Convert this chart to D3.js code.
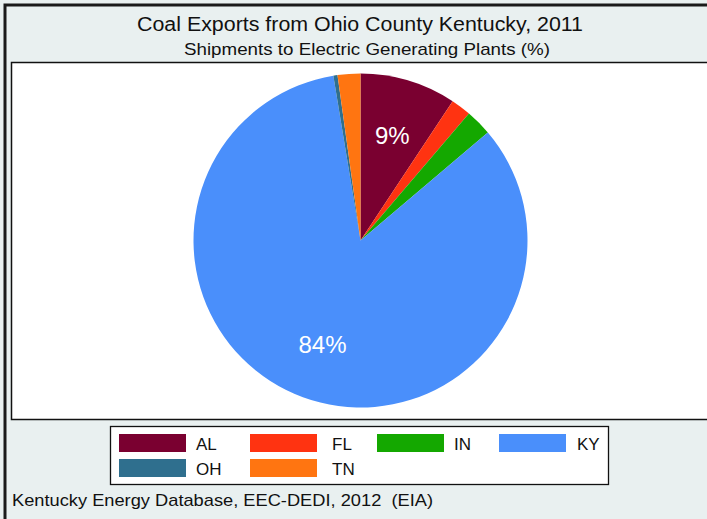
<!DOCTYPE html>
<html><head><meta charset="utf-8">
<script src="https://cdn.jsdelivr.net/npm/d3@7"></script>
<style>html,body{margin:0;padding:0;background:#e9f0f0;}svg{display:block;font-family:"Liberation Sans",Arial,sans-serif;}</style>
</head><body>
<svg id="c" width="707" height="519"></svg>
<script>
const categories = ["AL","FL","IN","KY","OH","TN"];
const values = [9.3, 1.95, 2.55, 83.6, 0.4, 2.2];
const colors = ["#7a0030","#ff3311","#14a800","#4a8ffb","#2f6f8e","#ff7511"];
const labeled = ["AL","KY"];

const svg = d3.select("#c");
svg.append("rect").attr("x",0).attr("y",0).attr("width",707).attr("height",519).attr("fill","#e9f0f0");
svg.append("path").attr("d","M5,519 V5 H707").attr("fill","none").attr("stroke","#1a1a1a").attr("stroke-width",3);

svg.append("text").attr("x",360).attr("y",31).attr("text-anchor","middle").attr("font-size",20)
  .attr("textLength",446).attr("lengthAdjust","spacingAndGlyphs").attr("fill","#111").text("Coal Exports from Ohio County Kentucky, 2011");
svg.append("text").attr("x",367).attr("y",55).attr("text-anchor","middle").attr("font-size",17)
  .attr("textLength",366).attr("lengthAdjust","spacingAndGlyphs").attr("fill","#111").text("Shipments to Electric Generating Plants (%)");

svg.append("rect").attr("x",11.5).attr("y",62.5).attr("width",720).attr("height",357).attr("fill","#fff").attr("stroke","#111").attr("stroke-width",1.5);

const cx = 360.5, cy = 240.5, R = 167;
const pie = d3.pie().sort(null).value(d=>d.v);
const data = categories.map((c,i)=>({c, v: values[i], col: colors[i]}));
const arcs = pie(data);
const arc = d3.arc().innerRadius(0).outerRadius(R);
const g = svg.append("g").attr("transform",`translate(${cx},${cy})`);
g.selectAll("path").data(arcs).join("path").attr("d",arc).attr("fill",d=>d.data.col);
const labArc = d3.arc().innerRadius(R*0.66).outerRadius(R*0.66);
g.selectAll("text").data(arcs.filter(d=>labeled.includes(d.data.c))).join("text")
  .attr("transform",d=>`translate(${labArc.centroid(d)})`)
  .attr("text-anchor","middle").attr("dy","0.36em").attr("font-size",24).attr("fill","#fff")
  .text(d=>Math.round(d.data.v)+"%");

const lg = svg.append("g");
lg.append("rect").attr("x",110.5).attr("y",426.5).attr("width",498).attr("height",58).attr("fill","#fff").attr("stroke","#111").attr("stroke-width",1.3);
const colX = [119, 250, 377, 499];
const labX = [196, 332, 454, 577];
const rowY = [434, 459];
data.forEach((d,i)=>{
  const col = i%4, row = Math.floor(i/4);
  lg.append("rect").attr("x",colX[col]).attr("y",rowY[row]).attr("width",67).attr("height",18).attr("fill",d.col);
  lg.append("text").attr("x",labX[col]).attr("y",rowY[row]+16).attr("font-size",17).attr("fill","#111").text(d.c);
});

svg.append("text").attr("x",12).attr("y",506).attr("font-size",17).style("white-space","pre")
  .attr("textLength",421).attr("lengthAdjust","spacingAndGlyphs").attr("fill","#111").text("Kentucky Energy Database, EEC-DEDI, 2012  (EIA)");
</script>
</body></html>
